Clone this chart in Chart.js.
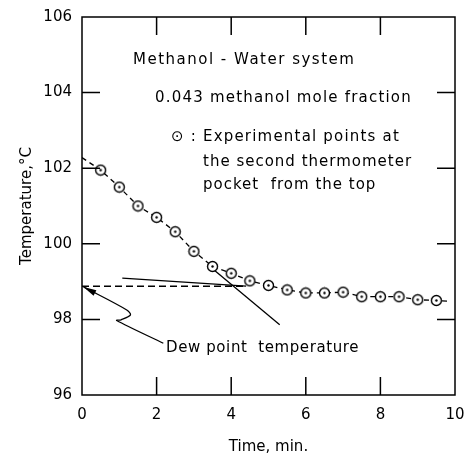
<!DOCTYPE html>
<html>
<head>
<meta charset="utf-8">
<script src="https://cdn.jsdelivr.net/npm/chart.js@4"></script>
<style>
  body { margin: 0; background: #fff; }
  #wrap { width: 466px; height: 455px; }
</style>
</head>
<body>
<div id="wrap"><canvas id="myChart" width="466" height="455"></canvas></div>
<script>
// Experimental points (time in min, temperature in deg C)
var times = [0.5, 1, 1.5, 2, 2.5, 3, 3.5, 4, 4.5, 5, 5.5, 6, 6.5, 7, 7.5, 8, 8.5, 9, 9.5];
var temps = [101.95, 101.5, 101.0, 100.7, 100.32, 99.8, 99.4, 99.22, 99.02, 98.9, 98.78, 98.7, 98.7, 98.72, 98.6, 98.6, 98.6, 98.52, 98.5];

// ends of the smoothed curve drawn through the points
var curveStart = [0, 102.28];
var curveEnd = [9.85, 98.48];

// dew point line (dashed) and the two tangent lines
var dewX = [0, 4.4];
var dewY = [98.88, 98.88];
var tanAX = [1.08, 4.4];
var tanAY = [99.09, 98.88];
var tanBX = [3.5, 5.3];
var tanBY = [99.34, 97.86];

// arrow from the label to the dew point
var arrowX = [0.04, 1.2, 1.3, 1.05, 0.93, 2.18];
var arrowY = [98.86, 98.25, 98.12, 97.99, 97.97, 97.37];

var xTicks = [0, 2, 4, 6, 8, 10];
var yTicks = [96, 98, 100, 102, 104, 106];

var textFont = "15px 'DejaVu Sans'";

function pairs(xs, ys) {
  return xs.map(function (x, i) { return { x: x, y: ys[i] }; });
}

// circle with a dot in the middle
var dotCircle = document.createElement("canvas");
dotCircle.width = 13;
dotCircle.height = 13;
(function () {
  var c = dotCircle.getContext("2d");
  c.beginPath();
  c.arc(6.5, 6.5, 5, 0, Math.PI * 2);
  c.fillStyle = "#fff";
  c.fill();
  c.lineWidth = 1.4;
  c.strokeStyle = "#000";
  c.stroke();
  c.beginPath();
  c.arc(6.5, 6.5, 1.2, 0, Math.PI * 2);
  c.fillStyle = "#000";
  c.fill();
})();

var curveData = [{ x: curveStart[0], y: curveStart[1] }]
  .concat(pairs(times, temps))
  .concat([{ x: curveEnd[0], y: curveEnd[1] }]);

// white background, frame, inward ticks, arrowhead and text notes
var extras = {
  id: "extras",
  beforeDraw: function (chart) {
    var c = chart.ctx;
    c.save();
    c.fillStyle = "#fff";
    c.fillRect(0, 0, chart.width, chart.height);
    c.restore();
  },
  afterDatasetsDraw: function (chart) {
    var c = chart.ctx;
    var a = chart.chartArea;
    var xs = chart.scales.x, ys = chart.scales.y;
    c.save();
    c.strokeStyle = "#000";
    c.lineWidth = 1.5;
    c.strokeRect(a.left, a.top, a.right - a.left, a.bottom - a.top);
    var len = 18;
    c.beginPath();
    xTicks.slice(1, -1).forEach(function (v) {
      var px = xs.getPixelForValue(v);
      c.moveTo(px, a.bottom); c.lineTo(px, a.bottom - len);
      c.moveTo(px, a.top); c.lineTo(px, a.top + len);
    });
    yTicks.slice(1, -1).forEach(function (v) {
      var py = ys.getPixelForValue(v);
      c.moveTo(a.left, py); c.lineTo(a.left + len, py);
      c.moveTo(a.right, py); c.lineTo(a.right - len, py);
    });
    c.stroke();

    // arrowhead at the dew point
    var tx = xs.getPixelForValue(arrowX[0]), ty = ys.getPixelForValue(arrowY[0]);
    var fx = xs.getPixelForValue(arrowX[1]), fy = ys.getPixelForValue(arrowY[1]);
    var ang = Math.atan2(ty - fy, tx - fx);
    c.beginPath();
    c.moveTo(tx, ty);
    c.lineTo(tx - 13 * Math.cos(ang) + 3 * Math.sin(ang), ty - 13 * Math.sin(ang) - 3 * Math.cos(ang));
    c.lineTo(tx - 13 * Math.cos(ang) - 3 * Math.sin(ang), ty - 13 * Math.sin(ang) + 3 * Math.cos(ang));
    c.closePath();
    c.fillStyle = "#000";
    c.fill();

    // notes
    c.font = textFont;
    c.fillStyle = "#000";
    c.textBaseline = "middle";
    c.textAlign = "left";
    c.letterSpacing = "1.5px";
    c.fillText("Methanol - Water system", 133, 60);
    c.letterSpacing = "1.2px";
    c.fillText("0.043 methanol mole fraction", 155, 98);
    c.fillText("\u2299 : Experimental points at", 171, 137);
    c.letterSpacing = "1px";
    c.fillText("the second thermometer", 203, 162);
    c.fillText("pocket  from the top", 203, 185);
    c.letterSpacing = "0.6px";
    c.fillText("Dew point  temperature", 166, 348);
    c.restore();
  }
};

var ctx = document.getElementById("myChart").getContext("2d");

var myChart = new Chart(ctx, {
  type: "scatter",
  data: {
    datasets: [
      {
        label: "Experimental points",
        data: pairs(times, temps),
        pointStyle: dotCircle,
        pointRadius: 6,
        showLine: false,
        order: 0
      },
      {
        label: "Curve",
        data: curveData,
        showLine: true,
        borderColor: "#000",
        borderWidth: 1.3,
        borderDash: [5, 4],
        pointRadius: 0,
        order: 5
      },
      {
        label: "Dew point",
        data: pairs(dewX, dewY),
        showLine: true,
        borderColor: "#000",
        borderWidth: 1.5,
        borderDash: [7, 4],
        pointRadius: 0,
        order: 5
      },
      {
        label: "Tangent A",
        data: pairs(tanAX, tanAY),
        showLine: true,
        borderColor: "#000",
        borderWidth: 1.3,
        pointRadius: 0,
        order: 5
      },
      {
        label: "Tangent B",
        data: pairs(tanBX, tanBY),
        showLine: true,
        borderColor: "#000",
        borderWidth: 1.3,
        pointRadius: 0,
        order: 5
      },
      {
        label: "Arrow",
        data: pairs(arrowX, arrowY),
        showLine: true,
        borderColor: "#000",
        borderWidth: 1.3,
        tension: 0.3,
        pointRadius: 0,
        order: 5
      }
    ]
  },
  options: {
    responsive: false,
    animation: false,
    events: [],
    layout: { padding: { top: 17, right: 11, left: 0, bottom: 0 } },
    plugins: {
      legend: { display: false },
      tooltip: { enabled: false }
    },
    scales: {
      x: {
        type: "linear",
        min: 0,
        max: 10,
        afterFit: function (s) { s.height = 60; s.paddingLeft = 0; s.paddingRight = 0; },
        afterBuildTicks: function (s) { s.ticks = xTicks.map(function (v) { return { value: v }; }); },
        grid: { display: false, drawTicks: false },
        border: { display: false },
        ticks: { color: "#000", font: { family: "DejaVu Sans", size: 15 }, padding: 11, maxRotation: 0 },
        title: {
          display: true,
          text: "Time, min.",
          color: "#000",
          font: { family: "DejaVu Sans", size: 15, lineHeight: 1 },
          padding: { top: 0, bottom: 0 }
        }
      },
      y: {
        type: "linear",
        min: 96,
        max: 106,
        afterFit: function (s) { s.width = 82; s.paddingTop = 0; s.paddingBottom = 0; },
        afterBuildTicks: function (s) { s.ticks = yTicks.map(function (v) { return { value: v }; }); },
        grid: { display: false, drawTicks: false },
        border: { display: false },
        ticks: { color: "#000", font: { family: "DejaVu Sans", size: 15 }, padding: 10 },
        title: {
          display: true,
          text: "Temperature,\u00b0C",
          color: "#000",
          font: { family: "DejaVu Sans", size: 15, lineHeight: 1 },
          padding: { top: 20, bottom: 0 }
        }
      }
    }
  },
  plugins: [extras]
});
</script>
</body>
</html>
